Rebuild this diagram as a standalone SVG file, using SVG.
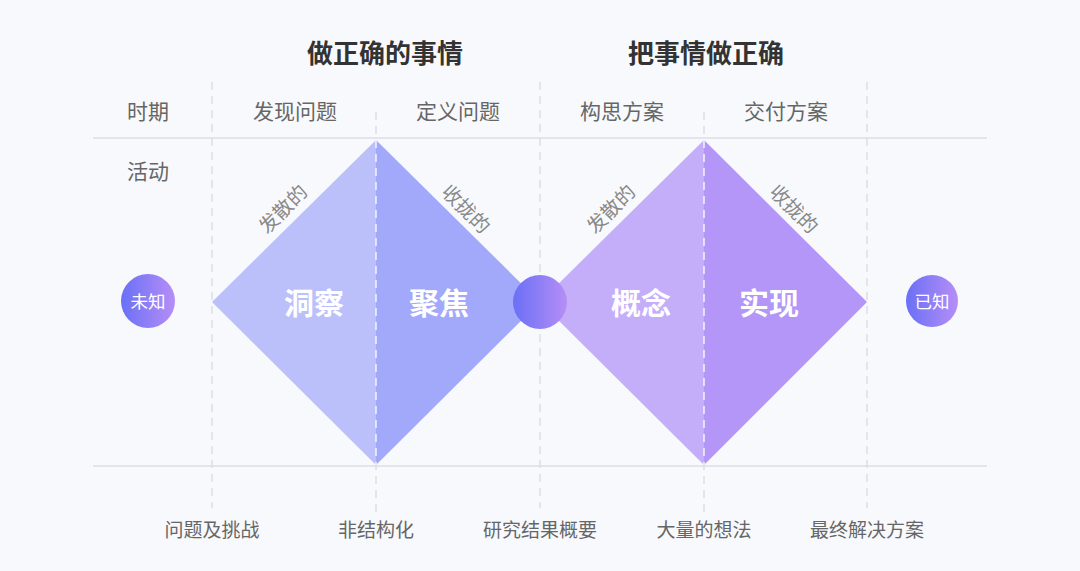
<svg xmlns="http://www.w3.org/2000/svg" width="1080" height="571" viewBox="0 0 1080 571">
<defs>
<linearGradient id="cg" x1="0" y1="0" x2="1" y2="0">
<stop offset="0" stop-color="#6a70f6"/>
<stop offset="1" stop-color="#b68ef6"/>
</linearGradient>
<style>
text{font-family:"Noto Sans CJK SC","Noto Sans",sans-serif;text-anchor:middle;dominant-baseline:central}
.title{font-size:26px;font-weight:bold;fill:#333}
.hd{font-size:21px;fill:#666}
.bt{font-size:19px;fill:#666}
.side{font-size:19.5px;fill:#888}
.big{font-size:30px;font-weight:bold;fill:#fff}
.circ{font-size:17.5px;fill:#fff}
.grid{stroke:#e3e4ec;stroke-width:2;fill:none}
.dash{stroke:#dcdde6;stroke-width:1.5;stroke-dasharray:8 6;fill:none}
.dashw{stroke:#f2f3ff;stroke-width:1.5;stroke-dasharray:8 6;fill:none}
</style>
</defs>
<rect width="1080" height="571" fill="#f8f9fc"/>
<g id="grid">
<line class="grid" x1="93" y1="138" x2="987" y2="138"/>
<line class="grid" x1="93" y1="466" x2="987" y2="466"/>
<line class="dash" x1="212" y1="82" x2="212" y2="508"/>
<line class="dash" x1="376" y1="112" x2="376" y2="512"/>
<line class="dash" x1="540" y1="82" x2="540" y2="508"/>
<line class="dash" x1="704" y1="112" x2="704" y2="512"/>
<line class="dash" x1="867" y1="82" x2="867" y2="508"/>
</g>
<g id="titles">
<text class="title" x="385" y="51.5">做正确的事情</text>
<text class="title" x="706" y="51.5">把事情做正确</text>
</g>
<g id="headers">
<text class="hd" x="148" y="109.5">时期</text>
<text class="hd" x="148" y="169.5">活动</text>
<text class="hd" x="295" y="109.5">发现问题</text>
<text class="hd" x="458" y="109.5">定义问题</text>
<text class="hd" x="622" y="109.5">构思方案</text>
<text class="hd" x="786" y="109.5">交付方案</text>
</g>
<g id="diamond1">
<polygon points="212,302 376,140 376,465" fill="#bbc0fb"/>
<polygon points="376,140 540,302 376,465" fill="#a3a9fa"/>
<line class="dashw" x1="376" y1="140" x2="376" y2="465"/>
<text class="big" x="314" y="301">洞察</text>
<text class="big" x="439" y="301">聚焦</text>
</g>
<g id="diamond2">
<polygon points="540,302 704,140 704,465" fill="#c4aefa"/>
<polygon points="704,140 867,302 704,465" fill="#b396f8"/>
<line class="dashw" x1="704" y1="140" x2="704" y2="465"/>
<text class="big" x="641" y="301">概念</text>
<text class="big" x="769" y="301">实现</text>
</g>
<g id="side-labels">
<text class="side" transform="translate(282,208) rotate(-45)">发散的</text>
<text class="side" transform="translate(467,208) rotate(45)">收拢的</text>
<text class="side" transform="translate(610,208) rotate(-45)">发散的</text>
<text class="side" transform="translate(795,208) rotate(45)">收拢的</text>
</g>
<g id="node-unknown">
<circle cx="148" cy="301" r="27" fill="url(#cg)"/>
<text class="circ" x="148" y="300">未知</text>
</g>
<g id="node-mid">
<circle cx="540" cy="302" r="27" fill="url(#cg)"/>
</g>
<g id="node-known">
<circle cx="932" cy="301" r="26" fill="url(#cg)"/>
<text class="circ" x="932" y="300">已知</text>
</g>
<g id="bottom-labels">
<text class="bt" x="212" y="528.5">问题及挑战</text>
<text class="bt" x="376" y="528.5">非结构化</text>
<text class="bt" x="540" y="528.5">研究结果概要</text>
<text class="bt" x="704" y="528.5">大量的想法</text>
<text class="bt" x="867" y="528.5">最终解决方案</text>
</g>
</svg>
